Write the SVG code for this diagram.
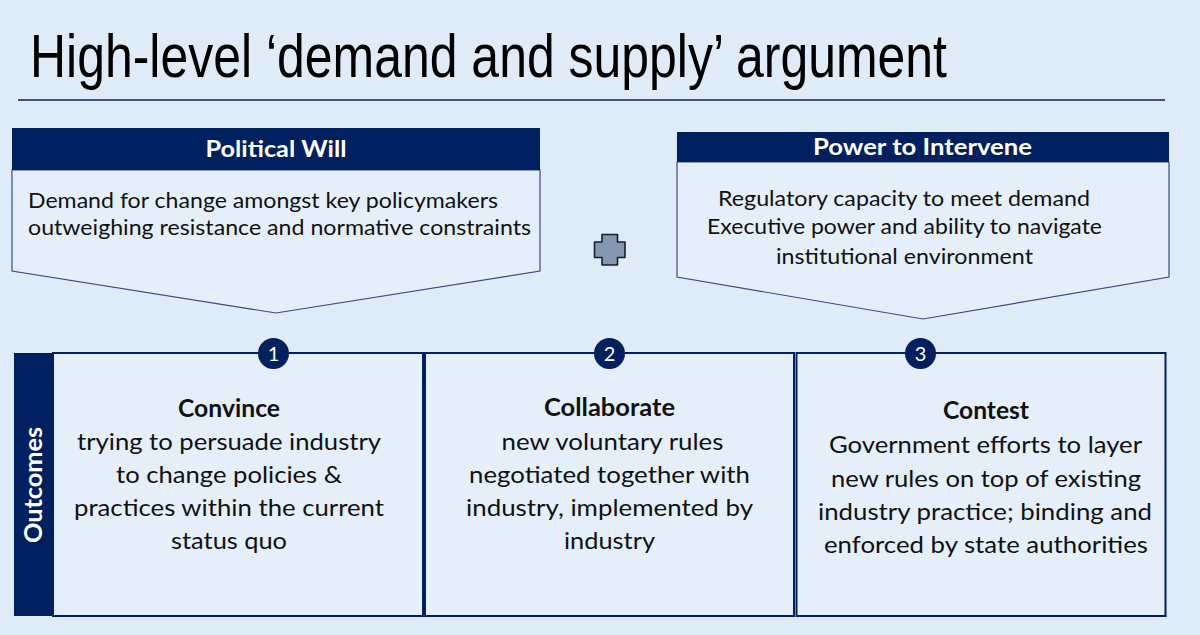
<svg xmlns="http://www.w3.org/2000/svg" width="1200" height="635" viewBox="0 0 1200 635">
  <style>
    .hdr { fill: #002060; }
    .body { fill: #e4eff9; stroke: #3b4a86; stroke-width: 1.2; }
    .box { fill: #e4eff9; stroke: #002060; stroke-width: 2; }
    .hdrtxt { font-family: Lato, "Open Sans", sans-serif; font-weight: bold; font-size: 22px; fill: #ffffff; text-anchor: middle; }
    .btxt { font-family: Lato, "Open Sans", sans-serif; font-size: 22px; fill: #111111; }
    .otxt { font-family: Lato, "Open Sans", sans-serif; font-size: 24px; fill: #111111; text-anchor: middle; }
    .otitle { font-family: Lato, "Open Sans", sans-serif; font-weight: bold; font-size: 24px; fill: #111111; text-anchor: middle; }
    .num { fill: #002060; }
    .numtxt { font-family: Lato, "Open Sans", sans-serif; font-size: 20px; fill: #ffffff; text-anchor: middle; }
  </style>
  <rect x="0" y="0" width="1200" height="635" fill="#dfebf6"/>

  <g id="title">
    <text x="30" y="77" font-family="Liberation Sans Narrow, Liberation Sans, sans-serif" font-size="61" fill="#000000" textLength="917" lengthAdjust="spacingAndGlyphs">High-level ‘demand and supply’ argument</text>
    <line x1="18" y1="100" x2="1165" y2="100" stroke="#0f1f4f" stroke-width="1.6"/>
  </g>

  <g id="political-will">
    <polygon class="body" points="12,170 540,170 540,271 276,313 12,271"/>
    <rect class="hdr" x="12" y="128" width="528" height="42"/>
    <text class="hdrtxt" x="276" y="157" textLength="141" lengthAdjust="spacingAndGlyphs">Political Will</text>
    <text class="btxt" x="28" y="208" textLength="470" lengthAdjust="spacingAndGlyphs">Demand for change amongst key policymakers</text>
    <text class="btxt" x="28" y="235" textLength="503" lengthAdjust="spacingAndGlyphs">outweighing resistance and normative constraints</text>
  </g>

  <g id="plus">
    <path d="M602,234.5 H617.5 V242 H625 V257.5 H617.5 V265 H602 V257.5 H594.5 V242 H602 Z" fill="#8496b0" stroke="#1a1f2e" stroke-width="1.6" stroke-linejoin="round"/>
  </g>

  <g id="power-to-intervene">
    <polygon class="body" points="677,162 1169,162 1169,277 923,319 677,277"/>
    <rect class="hdr" x="677" y="132" width="492" height="30"/>
    <text class="hdrtxt" x="922.5" y="155" textLength="219" lengthAdjust="spacingAndGlyphs">Power to Intervene</text>
    <text class="btxt" x="718" y="206" textLength="372" lengthAdjust="spacingAndGlyphs">Regulatory capacity to meet demand</text>
    <text class="btxt" x="707" y="234" textLength="395" lengthAdjust="spacingAndGlyphs">Executive power and ability to navigate</text>
    <text class="btxt" x="776" y="264" textLength="257" lengthAdjust="spacingAndGlyphs">institutional environment</text>
  </g>

  <g id="outcomes-label">
    <rect class="hdr" x="14" y="353" width="39" height="263"/>
    <text x="0" y="0" transform="translate(42,485) rotate(-90)" font-family="Lato, Open Sans, sans-serif" font-weight="bold" font-size="24" fill="#ffffff" text-anchor="middle" textLength="116" lengthAdjust="spacingAndGlyphs">Outcomes</text>
  </g>

  <g id="convince">
    <rect class="box" x="53" y="353" width="370" height="263"/>
    <circle class="num" cx="273.5" cy="353.5" r="15.5"/>
    <text class="numtxt" x="273.5" y="361">1</text>
    <text class="otitle" x="229" y="417" textLength="102" lengthAdjust="spacingAndGlyphs">Convince</text>
    <text class="otxt" x="229" y="450" textLength="304" lengthAdjust="spacingAndGlyphs">trying to persuade industry</text>
    <text class="otxt" x="229" y="483" textLength="226" lengthAdjust="spacingAndGlyphs">to change policies &amp;</text>
    <text class="otxt" x="229" y="516" textLength="310" lengthAdjust="spacingAndGlyphs">practices within the current</text>
    <text class="otxt" x="229" y="549" textLength="116" lengthAdjust="spacingAndGlyphs">status quo</text>
  </g>

  <g id="collaborate">
    <rect class="box" x="425" y="353" width="369" height="263"/>
    <circle class="num" cx="609.5" cy="353.5" r="15.5"/>
    <text class="numtxt" x="609.5" y="361">2</text>
    <text class="otitle" x="609.5" y="416" textLength="131" lengthAdjust="spacingAndGlyphs">Collaborate</text>
    <text class="otxt" x="612.5" y="450" textLength="222" lengthAdjust="spacingAndGlyphs">new voluntary rules</text>
    <text class="otxt" x="609.5" y="483" textLength="281" lengthAdjust="spacingAndGlyphs">negotiated together with</text>
    <text class="otxt" x="609.5" y="516" textLength="287" lengthAdjust="spacingAndGlyphs">industry, implemented by</text>
    <text class="otxt" x="609.5" y="549" textLength="91" lengthAdjust="spacingAndGlyphs">industry</text>
  </g>

  <g id="contest">
    <rect class="box" x="796.5" y="353" width="369" height="263"/>
    <circle class="num" cx="920.5" cy="353.5" r="15.5"/>
    <text class="numtxt" x="920.5" y="361">3</text>
    <text class="otitle" x="986" y="419" textLength="86" lengthAdjust="spacingAndGlyphs">Contest</text>
    <text class="otxt" x="985.5" y="453" textLength="313" lengthAdjust="spacingAndGlyphs">Government efforts to layer</text>
    <text class="otxt" x="986" y="486.5" textLength="310" lengthAdjust="spacingAndGlyphs">new rules on top of existing</text>
    <text class="otxt" x="985" y="520" textLength="334" lengthAdjust="spacingAndGlyphs">industry practice; binding and</text>
    <text class="otxt" x="986" y="553" textLength="324" lengthAdjust="spacingAndGlyphs">enforced by state authorities</text>
  </g>

  <g id="connectors"/>
</svg>
